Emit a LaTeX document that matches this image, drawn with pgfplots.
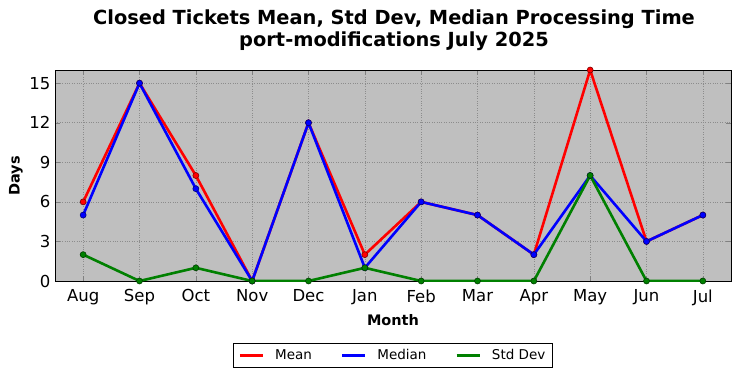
\documentclass[border=0pt]{standalone}
\usepackage{pgfplots}
\pgfplotsset{compat=1.18}
\usepackage{fontspec}
\setmainfont{DejaVu Sans}
\begin{document}
\begin{tikzpicture}[x=1pt,y=1pt]
\path (0,0) rectangle (741,378);
\begin{axis}[
  at={(55pt,97pt)}, anchor=south west, scale only axis,
  width=676pt, height=211pt,
  xmin=-0.5, xmax=11.5, ymin=0, ymax=16,
  xtick={0,...,11},
  xticklabels={Aug,Sep,Oct,Nov,Dec,Jan,Feb,Mar,Apr,May,Jun,Jul},
  ytick={0,3,6,9,12,15},
  tick align=inside,
  major tick length=5pt,
  grid=major,
  grid style={dotted, black!45, line width=0.6pt},
  axis line style={line width=1pt},
  axis background/.style={fill=black!25},
  tick label style={font=\fontsize{16.5}{16}\selectfont},
  xticklabel style={yshift=-5pt},
  yticklabel style={xshift=-1pt},
  /pgf/number format/assume math mode=true,
  legend columns=3,
  legend style={at={(axis description cs:0.5,-0.294)}, anchor=north,
    font=\fontsize{13.5}{14}\selectfont, draw=black, line width=0.8pt,
    inner xsep=5pt, inner ysep=4pt,
    /tikz/every odd column/.append style={column sep=9pt},
    /tikz/every even column/.append style={column sep=27pt}},
  legend image code/.code={\draw[#1, mark=none, line width=2.5pt] (0pt,0pt) -- (23pt,0pt);},
  every axis plot/.append style={line width=2.6pt, mark=*, mark size=3pt},
]
\addplot[red, mark options={fill=red, draw=red!50!black, line width=0.6pt}] coordinates {
 (0,6) (1,15) (2,8) (3,0) (4,12) (5,2) (6,6) (7,5) (8,2) (9,16) (10,3) (11,5)};
\addlegendentry{Mean}
\addplot[blue, mark options={fill=blue, draw=blue!50!black, line width=0.6pt}] coordinates {
 (0,5) (1,15) (2,7) (3,0) (4,12) (5,1) (6,6) (7,5) (8,2) (9,8) (10,3) (11,5)};
\addlegendentry{Median}
\addplot[black!50!green, mark options={fill=black!50!green, draw=black!75!green, line width=0.6pt}] coordinates {
 (0,2) (1,0) (2,1) (3,0) (4,0) (5,1) (6,0) (7,0) (8,0) (9,8) (10,0) (11,0)};
\addlegendentry{Std Dev}
\end{axis}
\node[font=\bfseries\fontsize{19.4}{22}\selectfont, align=center] at (394,348) {Closed Tickets Mean, Std Dev, Median Processing Time\\port-modifications July 2025};
\node[font=\bfseries\fontsize{14.5}{14}\selectfont] at (393,58) {Month};
\node[font=\bfseries\fontsize{14.5}{14}\selectfont, rotate=90] at (16,202) {Days};
\end{tikzpicture}
\end{document}
